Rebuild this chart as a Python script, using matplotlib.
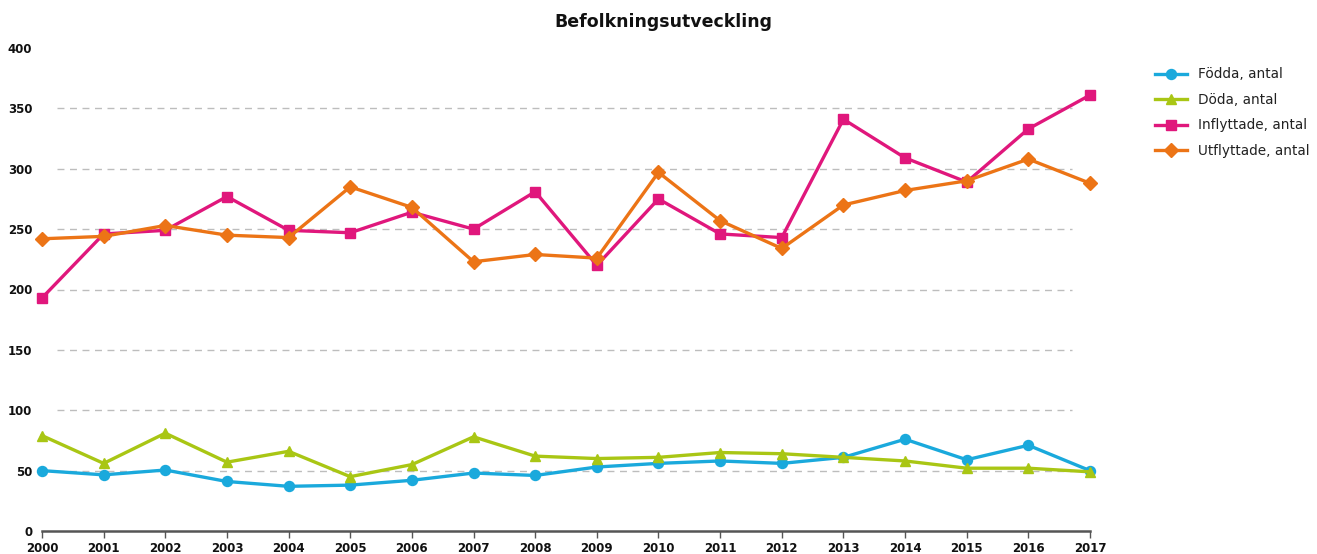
import matplotlib
matplotlib.use("Agg")
import matplotlib.pyplot as plt

years = list(range(2000, 2018))
fodda = [50, 46.5, 50.5, 41, 37, 38, 42, 48, 46, 53, 56, 58, 56, 61, 76, 59, 71, 50]
doda = [79, 56, 81, 57, 66, 45, 55, 78, 62, 60, 61, 65, 64, 61, 58, 52, 52, 49]
inflyttade = [193, 246, 249, 277, 249, 247, 264, 250, 281, 220, 275, 246, 243, 341, 309, 289, 333, 361]
utflyttade = [242, 244, 253, 245, 243, 285, 268, 223, 229, 226, 297, 257, 234, 270, 282, 290, 308, 288]
yticks = [0, 50, 100, 150, 200, 250, 300, 350, 400]
title = "Befolkningsutveckling"

series = [
    ("Födda, antal", fodda, "#1aa9dc", "o", 7.2),
    ("Döda, antal", doda, "#a9c614", "^", 7.8),
    ("Inflyttade, antal", inflyttade, "#e0177c", "s", 6.6),
    ("Utflyttade, antal", utflyttade, "#ec7416", "D", 6.8),
]

fig = plt.figure(figsize=(13.17, 5.54), dpi=100)
ax = fig.add_axes([42/1317, 1-531/554, (1090-42)/1317, (531-48)/554])

# dashed gridlines (inset from both ends, as in reference)
for t in yticks[1:-1]:
    ax.hlines(t, years[0] + 0.24, years[-1] - 0.3, colors="#bdbdbd",
              linestyles=(0, (5, 4)), linewidth=1.0, zorder=1)

for label, vals, col, mk, ms in series:
    ax.plot(years, vals, color=col, marker=mk, markersize=ms, linewidth=2.4,
            label=label, clip_on=False, zorder=3)

ax.set_xlim(years[0], years[-1])
ax.set_ylim(yticks[0], yticks[-1])
ax.set_xticks(years)
ax.set_xticklabels([str(y) for y in years])
ax.set_yticks(yticks)
ax.set_yticklabels([str(t) for t in yticks])

for s in ["top", "right", "left"]:
    ax.spines[s].set_visible(False)
ax.spines["bottom"].set_color("#555555")
ax.spines["bottom"].set_linewidth(1.8)
ax.tick_params(axis="x", length=5, width=1, color="#555555", pad=3,
               labelsize=8.5, labelcolor="#111111")
ax.tick_params(axis="y", length=0, pad=7, labelsize=8.5, labelcolor="#111111")
for lbl in ax.get_xticklabels() + ax.get_yticklabels():
    lbl.set_fontweight("bold")

fig.text(663/1317, 1-22/554, title, ha="center", va="center", fontsize=12.5,
         fontweight="bold", color="#111111")

leg = fig.legend(loc="upper left", bbox_to_anchor=(1150/1317, 1-62/554), frameon=False,
                 fontsize=9.8, handlelength=2.3, labelspacing=0.84, handletextpad=0.8,
                 borderaxespad=0)
for t in leg.get_texts():
    t.set_color("#222222")

fig.savefig("out.png", dpi=100)
